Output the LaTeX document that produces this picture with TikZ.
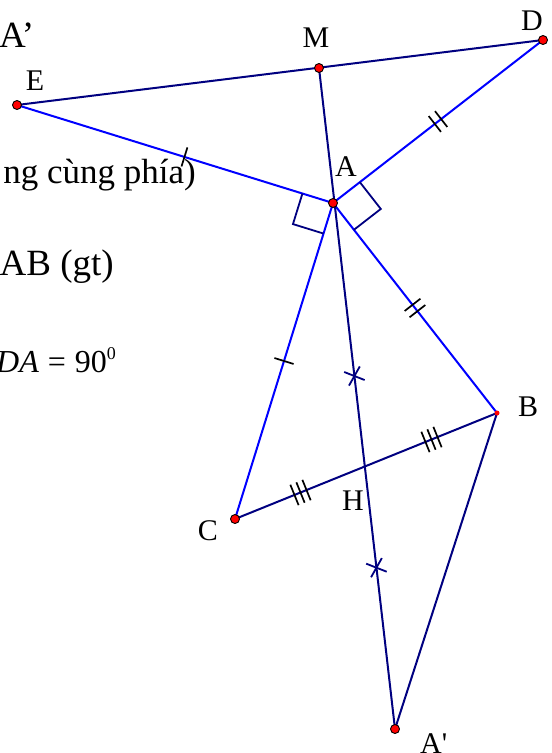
\documentclass[tikz,border=0pt]{standalone}
\usepackage{fontspec}
\setmainfont{Liberation Serif}
\usetikzlibrary{calc, decorations.markings}

\definecolor{navy}{RGB}{0,0,128}
\definecolor{segblue}{RGB}{0,0,255}

\tikzstyle{pointdot} = [
    circle,
    fill=red,
    draw=black,
    line width=0.9pt,
    inner sep=0pt,
    minimum size=9pt
]
\tikzstyle{ptlabel} = [inner sep=0pt, font=\fontsize{30}{36}\selectfont]
\tikzstyle{textline} = [inner sep=0pt, font=\fontsize{37}{44}\selectfont]
\tikzstyle{blueseg} = [segblue, line width=2pt]
\tikzstyle{darkseg} = [navy, line width=2pt]
\tikzstyle{rightang} = [navy, line width=1.8pt]
\tikzset{
    onetick/.style={postaction={decorate}, decoration={markings,
        mark=at position #1 with {\draw[black, line width=1.7pt] (0pt,-10pt) -- (0pt,10pt);}}},
    twotick/.style={postaction={decorate}, decoration={markings,
        mark=at position 0.5 with {\draw[black, line width=1.7pt] (-4pt,-10pt) -- (-4pt,10pt) (4pt,-10pt) -- (4pt,10pt);}}},
    threetick/.style={postaction={decorate}, decoration={markings,
        mark=at position 0.25 with {\draw[black, line width=1.7pt] (-6.5pt,-11pt) -- (-6.5pt,11pt) (0pt,-11pt) -- (0pt,11pt) (6.5pt,-11pt) -- (6.5pt,11pt);},
        mark=at position 0.75 with {\draw[black, line width=1.7pt] (-6.5pt,-11pt) -- (-6.5pt,11pt) (0pt,-11pt) -- (0pt,11pt) (6.5pt,-11pt) -- (6.5pt,11pt);}}},
    crosstick/.style={postaction={decorate}, decoration={markings,
        mark=at position 0.466 with {\draw[navy, line width=1.8pt] (62:11pt) -- (242:11pt) (-36:11pt) -- (144:11pt);},
        mark=at position 0.756 with {\draw[navy, line width=1.8pt] (62:11pt) -- (242:11pt) (-36:11pt) -- (144:11pt);}}}
}

\begin{document}
\begin{tikzpicture}[x=1pt, y=-1pt]
\useasboundingbox (0,0) rectangle (552,753);

% points
\coordinate (E) at (17,105);
\coordinate (D) at (543,40);
\coordinate (M) at (319,68);
\coordinate (A) at (333,203);
\coordinate (B) at (497,413);
\coordinate (C) at (235,519);
\coordinate (A1) at (395,729);
\coordinate (H) at ($(B)!0.5!(C)$);

% segments
\draw [darkseg] (E) -- (D);
\draw [blueseg, onetick=0.53] (E) -- (A);
\draw [blueseg, twotick] (A) -- (D);
\draw [blueseg, twotick] (A) -- (B);
\draw [blueseg, onetick=0.5] (A) -- (C);
\draw [darkseg, threetick] (C) -- (B);
\draw [darkseg] (B) -- (A1);
\draw [darkseg, crosstick] (M) -- (A1);

% right angles at A
\coordinate (ae) at ($(A)!32pt!(E)$);
\coordinate (ac) at ($(A)!32pt!(C)$);
\coordinate (ad) at ($(A)!34pt!(D)$);
\coordinate (ab) at ($(A)!34pt!(B)$);
\draw [rightang] (ae) -- ($(ae)+(ac)-(A)$) -- (ac);
\draw [rightang] (ad) -- ($(ad)+(ab)-(A)$) -- (ab);

% dots
\node (dotE) [pointdot] at (E) {};
\node (dotD) [pointdot] at (D) {};
\node (dotM) [pointdot] at (M) {};
\node (dotA) [pointdot] at (A) {};
\node (dotC) [pointdot] at (C) {};
\node (dotA1) [pointdot] at (A1) {};
\node (dotB) [circle, fill=red, inner sep=0pt, minimum size=5pt] at (B) {};

% labels
\node (lblE) [ptlabel] at (35,81) {E};
\node (lblM) [ptlabel] at (316,38) {M};
\node (lblD) [ptlabel] at (532,21) {D};
\node (lblA) [ptlabel] at (346,167) {A};
\node (lblB) [ptlabel] at (528,407) {B};
\node (lblC) [ptlabel] at (208,531) {C};
\node (lblH) [ptlabel] at (353,501) {H};
\node (lblA1) [ptlabel, anchor=base west] at (420,753) {A\textquotesingle};

% cut-off text on the left
\node (txtA) [textline, anchor=base west] at (-1,47) {A’};
\node (txtSide) [textline, font=\fontsize{35}{42}\selectfont, anchor=base east] at (196,183) {ng cùng phía)};
\node (txtGt) [textline, anchor=base east] at (114,275) {AB (gt)};
\node (txtAng) [inner sep=0pt, font=\fontsize{32}{38}\selectfont, anchor=base east] at (116,372)
{\textit{DA}\;=\;90\raisebox{13pt}{\fontsize{18}{20}\selectfont 0}};

\end{tikzpicture}
\end{document}
